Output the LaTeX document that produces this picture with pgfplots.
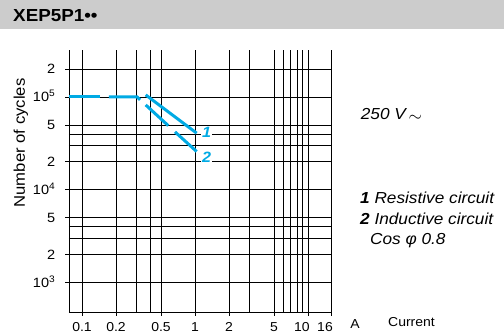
\documentclass[border=0pt]{standalone}
\usepackage{fontspec}
\setmainfont{Liberation Sans}[FakeStretch=1.08]
\usepackage{pgfplots}
\pgfplotsset{compat=1.18}
\definecolor{cy}{RGB}{0,170,228}
\begin{document}
\begin{tikzpicture}
\path[use as bounding box] (0,0) rectangle (504bp,333bp);
\fill[black!20] (0,304.3bp) rectangle (504bp,333bp);
\node[anchor=west, inner sep=0pt, font=\fontsize{17.5}{20}\selectfont\bfseries] at (13bp,317bp) {XEP5P1••};
\begin{axis}[
  at={(69bp,21bp)}, anchor=south west,
  scale only axis, width=262bp, height=262bp,
  xmode=log, ymode=log,
  xmin=0.0767, xmax=16, ymin=482, ymax=3.2e5,
  axis x line*=bottom, axis y line*=left,
  axis line style={black, line width=0.6pt, -},
  xtick={0.1,0.2,0.5,1,2,5},
  xticklabels={0.1,0.2,0.5,1,2,5},
  extra x ticks={10,16},
  extra x tick labels={10,16},
  extra x tick style={grid=major, xticklabel style={xshift=-6bp}},
  minor xtick={0.3,0.4,3,6,7,8,9},
  ytick={1000,2000,5000,10000,20000,50000,100000,200000},
  yticklabels={10\textsuperscript{3},2,5,10\textsuperscript{4},2,5,10\textsuperscript{5},2},
  minor ytick={3000,4000,30000,40000},
  grid=both,
  major grid style={black, line width=0.6pt},
  minor grid style={black, line width=0.6pt},
  tick align=outside,
  major tick length=4bp, minor tick length=0pt,
  tick style={black, line width=0.6pt},
  xticklabel style={font=\fontsize{13}{14}\selectfont, anchor=base, inner sep=0pt, yshift=-16bp},
  yticklabel style={font=\fontsize{13.5}{14}\selectfont, anchor=base east, inner sep=0pt, xshift=-9.5bp, yshift=-4.8bp},
  clip=false,
]
\addplot[cy, line width=3bp] coordinates {(0.0767,1e5) (0.144,1e5)};
\addplot[cy, line width=3bp] coordinates {(0.173,1e5) (0.307,1e5) (0.326,9.3e4)};
\addplot[cy, line width=3bp] coordinates {(0.366,1.05e5) (1.035,4.07e4)};
\addplot[cy, line width=3bp] coordinates {(0.366,8.2e4) (0.58,4.9e4)};
\addplot[cy, line width=3bp] coordinates {(0.665,4.2e4) (1.035,2.58e4)};
\node[fill=white, inner sep=1bp, text=cy, font=\fontsize{15}{15}\selectfont\bfseries\itshape] at (axis cs:1.27,4.2e4) {1};
\node[fill=white, inner sep=1bp, text=cy, font=\fontsize{15}{15}\selectfont\bfseries\itshape] at (axis cs:1.27,2.26e4) {2};
\end{axis}
\node[rotate=90, font=\fontsize{15.5}{16}\selectfont] at (21bp,190bp) {Number of cycles};
\node[anchor=base, font=\fontsize{13}{14}\selectfont, inner sep=0pt] at (355bp,5bp) {A};
\node[anchor=base west, font=\fontsize{13}{14}\selectfont, inner sep=0pt] at (388bp,7bp) {Current};
\node[anchor=west, inner sep=0pt, font=\fontsize{16}{17}\selectfont\itshape] at (360.7bp,218bp) {250 V\,\raisebox{-1.5bp}{$\sim$}};
\node[anchor=west, inner sep=0pt, font=\fontsize{16}{17}\selectfont\itshape] at (360bp,135.5bp) {\textbf{1} Resistive circuit};
\node[anchor=west, inner sep=0pt, font=\fontsize{16}{17}\selectfont\itshape] at (360bp,114bp) {\textbf{2} Inductive circuit};
\node[anchor=west, inner sep=0pt, font=\fontsize{16}{17}\selectfont\itshape] at (370bp,92bp) {Cos φ 0.8};
\end{tikzpicture}
\end{document}
